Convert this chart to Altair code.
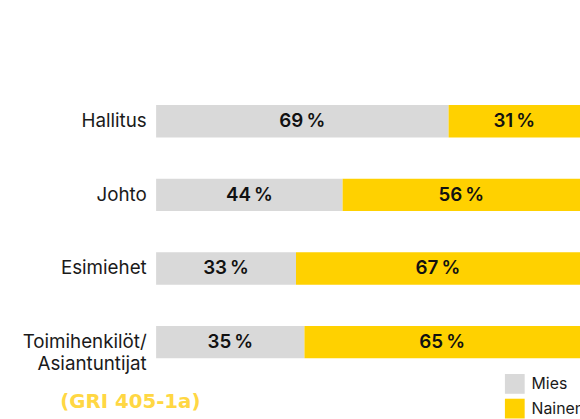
import altair as alt
import pandas as pd

categories = ["Hallitus", "Johto", "Esimiehet", "Toimihenkilöt/\nAsiantuntijat"]
mies = [69, 44, 33, 35]
nainen = [31, 56, 67, 65]
series = ["Mies", "Nainen"]
colors = ["#D9D9D9", "#FFD100"]
note = "(GRI 405-1a)"

rows = []
for c, m, n in zip(categories, mies, nainen):
    rows.append({"cat": c, "sarja": "Mies", "val": m, "order": 0})
    rows.append({"cat": c, "sarja": "Nainen", "val": n, "order": 1})
df = pd.DataFrame(rows)
df["label"] = df["val"].astype(str) + "\u202f%"

FONT = "Inter"

y = alt.Y("cat:N", sort=categories, title=None,
          scale=alt.Scale(paddingInner=0.56, paddingOuter=0.28),
          axis=alt.Axis(domain=False, ticks=False, grid=False, labelFontSize=19,
                        labelFont=FONT, labelColor="#1a1a1a", labelPadding=10,
                        labelLimit=200, labelLineHeight=22,
                        labelExpr="split(datum.label, '\\n')"))

base = alt.Chart(df)

bars = base.mark_bar().encode(
    y=y,
    x=alt.X("val:Q", stack="zero", scale=alt.Scale(domain=[0, 100], nice=False),
            axis=None),
    color=alt.Color("sarja:N", scale=alt.Scale(domain=series, range=colors),
                    legend=alt.Legend(title=None, orient="none", legendX=353, legendY=293,
                                      symbolType="square", symbolSize=400,
                                      symbolStrokeWidth=0, labelFontSize=16,
                                      labelFont=FONT, labelColor="#1a1a1a",
                                      rowPadding=5, padding=0, labelOffset=7)),
    order=alt.Order("order:Q"),
)

texts = base.mark_text(fontSize=19, font=FONT, fontWeight=600, color="#111111").encode(
    y=alt.Y("cat:N", sort=categories),
    x=alt.X("mid:Q"),
    text="label:N",
).transform_stack(
    stack="val", groupby=["cat"], as_=["v0", "v1"], sort=[alt.SortField("order")]
).transform_calculate(mid="(datum.v0 + datum.v1) / 2")

note_df = pd.DataFrame({"t": [note]})
note_layer = alt.Chart(note_df).mark_text(
    fontSize=20, font="DejaVu Sans", fontWeight="bold", color="#FFD743", align="left", baseline="middle"
).encode(text="t:N", x=alt.value(-97), y=alt.value(321))

chart = alt.layer(bars, texts, note_layer).properties(
    width=429, height=298,
    padding={"left": 158, "top": 83, "right": 0, "bottom": 38},
    autosize=alt.AutoSizeParams(type="none"),
).configure_view(stroke=None)

chart.save("out.html", embed_options={"renderer": "svg", "actions": False})
